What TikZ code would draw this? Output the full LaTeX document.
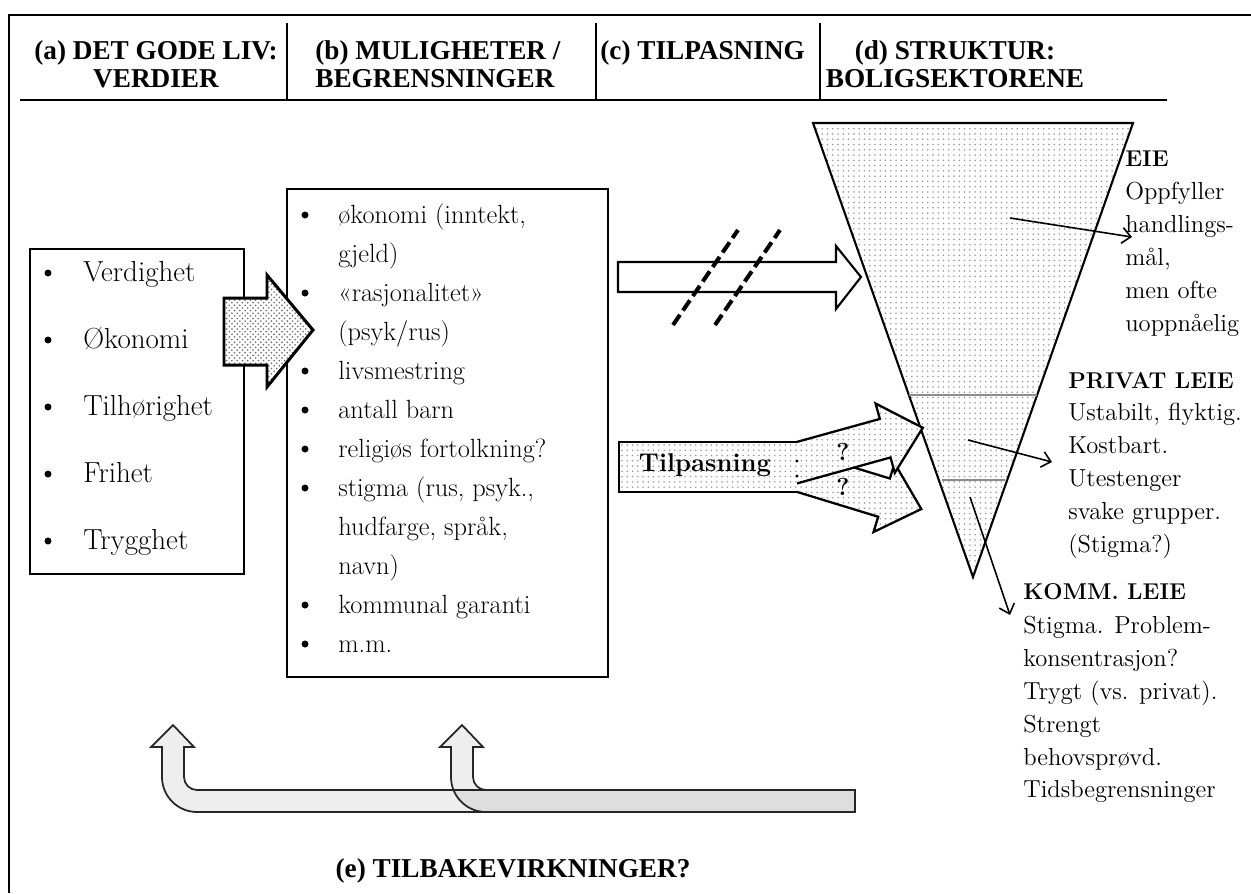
\documentclass[tikz,border=0pt]{standalone}
\usepackage{fontspec}
\newfontfamily\headfont{Liberation Serif}
\usetikzlibrary{patterns,fit,arrows.meta}

\tikzset{
  head/.style={font=\headfont\bfseries\fontsize{15.5}{15.9}\selectfont, inner sep=0pt},
  box/.style={draw, line width=1.1pt, inner sep=0pt},
  bul/.style={circle, fill, inner sep=0pt, minimum size=0.14cm},
  itemA/.style={font=\fontsize{16.5}{20}\selectfont, anchor=mid west, inner sep=0pt},
  itemB/.style={font=\fontsize{15}{18}\selectfont, anchor=mid west, inner sep=0pt},
  sidehead/.style={font=\bfseries\fontsize{13}{15}\selectfont, anchor=north west, inner sep=0pt},
  sidetext/.style={font=\fontsize{14}{18.7}\selectfont, align=left, anchor=north west, inner sep=0pt},
  dotfill/.style={preaction={fill=white}, pattern=dots, pattern color=black!40},
  thinarrow/.style={line width=0.9pt, -{Straight Barb[length=5pt,width=9pt]}},
  backarrow/.style={draw=black!85, line width=1pt, fill=black, fill opacity=0.065},
}

\begin{document}
\begin{tikzpicture}[x=0.02cm, y=-0.02cm]
\useasboundingbox (0,0) rectangle (1251,893);

% frame and header
\draw[line width=1.4pt] (9,893) -- (9,15) -- (1251,15);
\draw[line width=1.7pt] (20,100) -- (1167,100);
\foreach \x in {287,596,820}
  \draw[line width=1pt] (\x,23) -- (\x,100);
\node[head, anchor=north, align=center] (hA) at (156,40) {(a) DET GODE LIV:\\VERDIER};
\node[head, anchor=north west, align=left] (hB) at (315,40) {(b) MULIGHETER /\\BEGRENSNINGER};
\node[head, anchor=north west] (hC) at (600,40) {(c) TILPASNING};
\node[head, anchor=north, align=center] (hD) at (955,40) {(d) STRUKTUR:\\BOLIGSEKTORENE};

% (a) values
\node[box, fit={(30,249) (244,574)}] (boxA) {};
\foreach \t [count=\i from 0] in {Verdighet, Økonomi, Tilhørighet, Frihet, Trygghet} {
  \node[bul] (ba\i) at (48,{273+67*\i}) {};
  \node[itemA] (ia\i) at (83,{278+67*\i}) {\t};
}

% (b) possibilities
\node[box, fit={(287,189) (608,677)}] (boxB) {};
\foreach \t [count=\i from 0] in {{økonomi (inntekt,}, gjeld), «rasjonalitet», {(psyk/rus)},
    livsmestring, antall barn, religiøs fortolkning?, {stigma (rus, psyk.,},
    {hudfarge, språk,}, navn), kommunal garanti, m.m.}
  \node[itemB] (ib\i) at (338,{220+39*\i}) {\t};
\foreach \k in {0,2,4,5,6,7,10,11}
  \node[bul] (bb\k) at (305,{215+39*\k}) {};

% arrow a -> b
\draw[preaction={fill=white}, pattern=crosshatch dots, pattern color=black!60, line width=1.7pt]
  (224,298) -- (267,298) -- (267,275) -- (313,330) -- (267,387) -- (267,365) -- (224,365) -- cycle;

% (d) housing sectors
\draw[dotfill, line width=1.2pt] (813,123) -- (1133,123) -- (973,577) -- cycle;
\draw[black!45, line width=1pt] (909,395) -- (1037,395);
\draw[black!45, line width=1pt] (942,480) -- (1005,480);

% blocked arrow
\draw[line width=1.2pt, fill=white] (618,262) -- (836,262) -- (836,246) -- (861,277)
  -- (836,309) -- (836,292) -- (618,292) -- cycle;
\draw[line width=2.3pt, dash pattern=on 7pt off 3pt] (673,325) -- (738,230);
\draw[line width=2.3pt, dash pattern=on 7pt off 3pt] (715,325) -- (780,230);

% (c) adaptation
\begin{scope}[shift={(797,471)}, rotate=-17]
  \fill[dotfill] (-12,-20) -- (91,-20) -- (91,-36) -- (130,0) -- (91,36) -- (91,20) -- (-12,20) -- cycle;
  \draw[line width=1.3pt] (-12,-20) -- (91,-20) -- (91,-36) -- (130,0) -- (91,36) -- (91,20) -- (-12,20);
\end{scope}
\begin{scope}[shift={(797.5,462.5)}, rotate=15.5]
  \fill[dotfill] (-12,-20) -- (91,-20) -- (91,-36) -- (130,0) -- (91,36) -- (91,20) -- (-12,20) -- cycle;
  \draw[line width=1.3pt] (-12,-20) -- (91,-20) -- (91,-36) -- (130,0) -- (91,36) -- (91,20) -- (-12,20);
\end{scope}
\fill[dotfill] (619,442) rectangle (797,492);
\draw[line width=1.3pt] (797,442) -- (619,442) -- (619,492) -- (797,492);
\fill (797,461) circle[radius=1.6];
\fill (797,476) circle[radius=1.6];
\node[font=\bfseries\fontsize{14.6}{17}\selectfont, anchor=mid, inner sep=0pt] (tilp) at (705,468) {Tilpasning};
\node[font=\bfseries\fontsize{14}{17}\selectfont, inner sep=0pt] (q1) at (843,452) {?};
\node[font=\bfseries\fontsize{14}{17}\selectfont, inner sep=0pt] (q2) at (843,487) {?};

% sector labels
\node[sidehead] (eieT) at (1125,150) {EIE};
\node[sidetext] (eieB) at (1125,182) {Oppfyller\\handlings-\\mål,\\men ofte\\uoppnåelig};
\node[sidehead] (privT) at (1068,372) {PRIVAT LEIE};
\node[sidetext] (privB) at (1068,403) {Ustabilt, flyktig.\\Kostbart.\\Utestenger\\svake grupper.\\(Stigma?)};
\node[sidehead] (kommT) at (1023,583) {KOMM. LEIE};
\node[sidetext] (kommB) at (1023,616) {Stigma. Problem-\\konsentrasjon?\\Trygt (vs. privat).\\Strengt\\behovsprøvd.\\Tidsbegrensninger};

\coordinate (eieFrom) at (1010,218);  \coordinate (eieTo) at (1132,237);
\coordinate (privFrom) at (968,440);  \coordinate (privTo) at (1052,462);
\coordinate (kommFrom) at (970,497);  \coordinate (kommTo) at (1010,615);
\draw[thinarrow] (eieFrom) -- (eieTo);
\draw[thinarrow] (privFrom) -- (privTo);
\draw[thinarrow] (kommFrom) -- (kommTo);

% (e) feedback
\draw[backarrow] (855,790) -- (197,790) arc[start angle=90, end angle=180, radius=13]
  -- (184,747) -- (194,747) -- (173,725) -- (151,747) -- (162,747) -- (162,777)
  arc[start angle=180, end angle=90, radius=35] -- (855,812) -- cycle;
\draw[backarrow] (855,790) -- (486,790) arc[start angle=90, end angle=180, radius=13]
  -- (473,747) -- (483,747) -- (462,725) -- (440,747) -- (451,747) -- (451,777)
  arc[start angle=180, end angle=90, radius=35] -- (855,812) -- cycle;
\node[head, anchor=base] (hE) at (513,877) {(e) TILBAKEVIRKNINGER?};
\end{tikzpicture}
\end{document}
